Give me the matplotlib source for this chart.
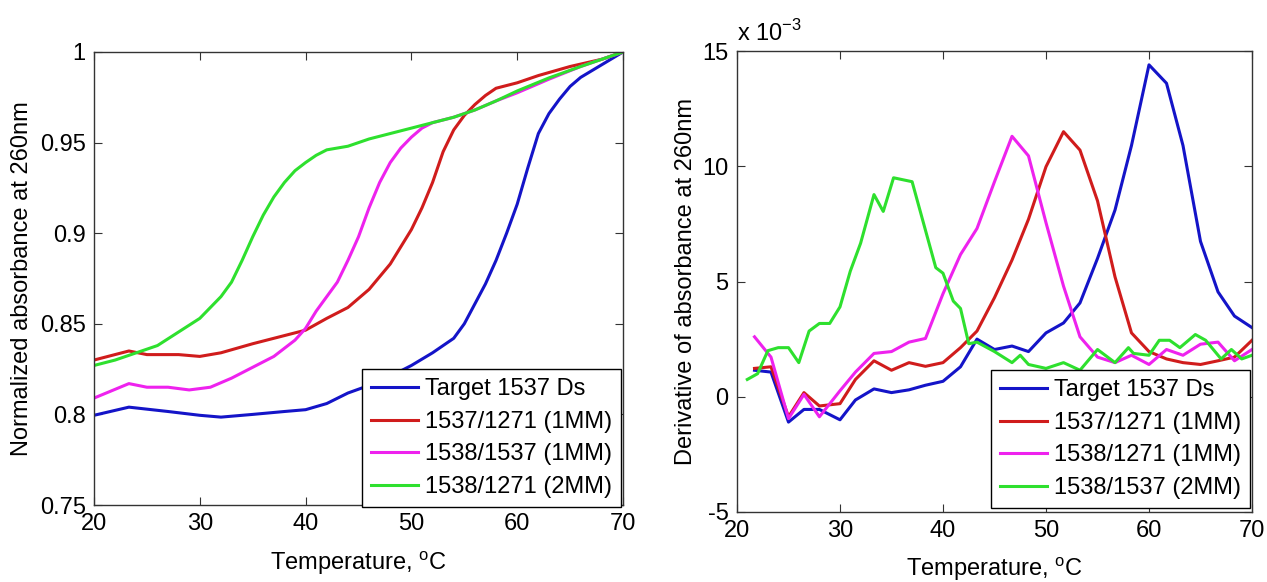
import matplotlib
matplotlib.use("Agg")
import matplotlib.pyplot as plt

plt.rcParams["font.family"] = ["Liberation Sans", "DejaVu Sans"]
plt.rcParams["mathtext.fontset"] = "custom"
plt.rcParams["mathtext.rm"] = "Liberation Sans"
plt.rcParams["axes.unicode_minus"] = False

# left panel: normalized absorbance at 260nm
target_x = [20, 23.3, 27, 30, 32, 35, 38, 40, 42, 44, 46, 48, 50, 52, 54, 55, 56, 57,
            58, 59, 60, 61, 62, 63, 64, 65, 66, 68, 70]
target_y = [0.7995, 0.804, 0.8016, 0.7995, 0.7985, 0.800, 0.8016, 0.8026, 0.806, 0.8118,
            0.816, 0.821, 0.827, 0.834, 0.842, 0.850, 0.861, 0.872, 0.885, 0.900, 0.916,
            0.936, 0.955, 0.966, 0.974, 0.981, 0.986, 0.993, 1.0]

mm1_a_x = [20, 23.3, 25, 28, 30, 32, 35, 38, 40, 42, 44, 46, 48, 50, 51, 52, 53, 54,
           55, 56, 57, 58, 60, 62, 65, 68, 70]
mm1_a_y = [0.830, 0.835, 0.833, 0.833, 0.832, 0.834, 0.839, 0.8435, 0.8465, 0.853, 0.859,
           0.869, 0.883, 0.902, 0.914, 0.928, 0.945, 0.957, 0.965, 0.971, 0.976, 0.980,
           0.983, 0.987, 0.992, 0.996, 1.0]

mm1_b_x = [20, 23.3, 25, 27, 29, 31, 33, 35, 37, 39, 40, 41, 42, 43, 44, 45, 46, 47,
           48, 49, 50, 51, 52, 54, 56, 58, 60, 63, 66, 70]
mm1_b_y = [0.809, 0.817, 0.815, 0.815, 0.8135, 0.815, 0.820, 0.826, 0.832, 0.841, 0.8475,
           0.857, 0.865, 0.873, 0.885, 0.898, 0.914, 0.928, 0.939, 0.947, 0.953, 0.958,
           0.961, 0.964, 0.968, 0.973, 0.9775, 0.985, 0.992, 1.0]

mm2_x = [20, 22, 24, 26, 28, 30, 31, 32, 33, 34, 35, 36, 37, 38, 39, 40, 41, 42, 44,
         46, 48, 50, 52, 54, 56, 58, 60, 63, 66, 70]
mm2_y = [0.827, 0.830, 0.834, 0.838, 0.8455, 0.853, 0.859, 0.865, 0.873, 0.885, 0.898,
         0.910, 0.920, 0.928, 0.9345, 0.939, 0.943, 0.946, 0.948, 0.952, 0.955, 0.958,
         0.961, 0.964, 0.968, 0.973, 0.9785, 0.9857, 0.992, 1.0]

# right panel: derivative of absorbance (x 10^-3)
deriv_x = [21.7, 23.3, 25, 26.5, 28, 30, 31.5, 33.3, 35, 36.7, 38.3, 40, 41.7, 43.3, 45,
           46.7, 48.3, 50, 51.7, 53.3, 55, 56.7, 58.3, 60, 61.7, 63.3, 65, 66.7, 68.3, 70]
d_target = [1.15, 1.07, -1.1, -0.55, -0.55, -1.0, -0.14, 0.34, 0.18, 0.3, 0.5, 0.67, 1.3,
            2.5, 2.05, 2.2, 1.96, 2.77, 3.2, 4.07, 6.0, 8.1, 10.9, 14.4, 13.6, 10.9, 6.74,
            4.55, 3.5, 3.0]
d_mm1_a = [1.23, 1.3, -0.87, 0.18, -0.4, -0.3, 0.75, 1.56, 1.15, 1.48, 1.32, 1.48, 2.13,
           2.85, 4.3, 5.93, 7.7, 9.98, 11.5, 10.7, 8.5, 5.2, 2.77, 1.96, 1.64, 1.48, 1.4,
           1.56, 1.72, 2.45]
d_mm1_b = [2.6, 1.72, -0.95, 0.1, -0.87, 0.26, 1.07, 1.88, 1.96, 2.37, 2.53, 4.47, 6.17,
           7.3, 9.33, 11.3, 10.45, 7.55, 4.8, 2.6, 1.72, 1.48, 1.8, 1.4, 2.05, 1.8, 2.28,
           2.37, 1.56, 2.05]
d_mm2_x = [21, 22, 23, 24, 25, 26, 27, 28, 29, 30, 31, 32, 33.3, 34.2, 35.2, 37, 38.3,
           39.3, 40, 41, 41.7, 42.5, 43.3, 45, 46.7, 47.5, 48.3, 50, 51.7, 53.3, 55, 56.7,
           58, 58.5, 60, 61, 62, 63, 64.5, 65.5, 67, 68, 69, 70]
d_mm2 = [0.75, 1.0, 2.0, 2.13, 2.13, 1.48, 2.85, 3.18, 3.18, 3.9, 5.45, 6.66, 8.77, 8.04,
         9.5, 9.33, 7.22, 5.6, 5.36, 4.15, 3.83, 2.3, 2.37, 1.96, 1.48, 1.8, 1.4, 1.23,
         1.48, 1.15, 2.05, 1.48, 2.13, 1.88, 1.8, 2.45, 2.45, 2.13, 2.7, 2.45, 1.64, 2.05,
         1.64, 1.8]

left_labels = ["Target 1537 Ds", "1537/1271 (1MM)", "1538/1537 (1MM)", "1538/1271 (2MM)"]
right_labels = ["Target 1537 Ds", "1537/1271 (1MM)", "1538/1271 (1MM)", "1538/1537 (2MM)"]
colors = ["#1414c8", "#d01c1c", "#ee22ee", "#2ee02e"]

W, H = 1267, 582
FS = 17
fig = plt.figure(figsize=(W / 100, H / 100), dpi=100)


def box(x0, y0, x1, y1):
    return [x0 / W, 1 - y1 / H, (x1 - x0) / W, (y1 - y0) / H]


def style(ax):
    for s in ax.spines.values():
        s.set_linewidth(1.0)
        s.set_color("#333333")
    ax.tick_params(direction="in", length=6, width=0.8, top=True, right=True,
                   labelsize=FS, pad=6, colors="#333333", labelcolor="black")


def add_legend(ax, right_px, bottom_px, x0, x1, y0, y1):
    leg = ax.legend(loc="lower right",
                    bbox_to_anchor=((right_px - x0) / (x1 - x0), (y1 - bottom_px) / (y1 - y0)),
                    fontsize=FS, frameon=True, fancybox=False, framealpha=1,
                    edgecolor="black", handlelength=2.0, handletextpad=0.3,
                    labelspacing=0.45, borderpad=0.38, borderaxespad=0)
    leg.get_frame().set_linewidth(1.0)


ax1 = fig.add_axes(box(94, 52, 623, 505))
for (x, y), c, lab in zip([(target_x, target_y), (mm1_a_x, mm1_a_y), (mm1_b_x, mm1_b_y),
                           (mm2_x, mm2_y)], colors, left_labels):
    ax1.plot(x, y, color=c, lw=2.2, label=lab)
ax1.set_xlim(20, 70)
ax1.set_ylim(0.75, 1.0)
ax1.set_xticks([20, 30, 40, 50, 60, 70])
ax1.set_yticks([0.75, 0.8, 0.85, 0.9, 0.95, 1.0])
ax1.set_yticklabels(["0.75", "0.8", "0.85", "0.9", "0.95", "1"])
style(ax1)
ax1.set_xlabel(r"Temperature, $^{\mathrm{o}}$C", fontsize=FS)
ax1.set_ylabel("Normalized absorbance at 260nm", fontsize=FS)
ax1.xaxis.set_label_coords(0.5, (505 - 563) / 453)
ax1.xaxis.label.set_va("center")
ax1.yaxis.set_label_coords((22 - 94) / 529, 0.5)
ax1.yaxis.label.set_va("center")
add_legend(ax1, 621, 507, 94, 623, 52, 505)

ax2 = fig.add_axes(box(737, 51, 1252, 512))
for y, c, lab in zip([d_target, d_mm1_a, d_mm1_b], colors[:3], right_labels[:3]):
    ax2.plot(deriv_x, y, color=c, lw=2.2, label=lab)
ax2.plot(d_mm2_x, d_mm2, color=colors[3], lw=2.2, label=right_labels[3])
ax2.set_xlim(20, 70)
ax2.set_ylim(-5, 15)
ax2.set_xticks([20, 30, 40, 50, 60, 70])
ax2.set_yticks([-5, 0, 5, 10, 15])
style(ax2)
ax2.set_xlabel(r"Temperature, $^{\mathrm{o}}$C", fontsize=FS)
ax2.set_ylabel("Derivative of absorbance at 260nm", fontsize=FS)
ax2.xaxis.set_label_coords(0.5, (512 - 569) / 461)
ax2.xaxis.label.set_va("center")
ax2.yaxis.set_label_coords((686 - 737) / 515, 0.5)
ax2.yaxis.label.set_va("center")
ax2.text(0.0, 1.01, r"x 10$^{-3}$", transform=ax2.transAxes, fontsize=FS,
         ha="left", va="bottom")
add_legend(ax2, 1250, 508, 737, 1252, 51, 512)

fig.savefig("out.png", dpi=100)
